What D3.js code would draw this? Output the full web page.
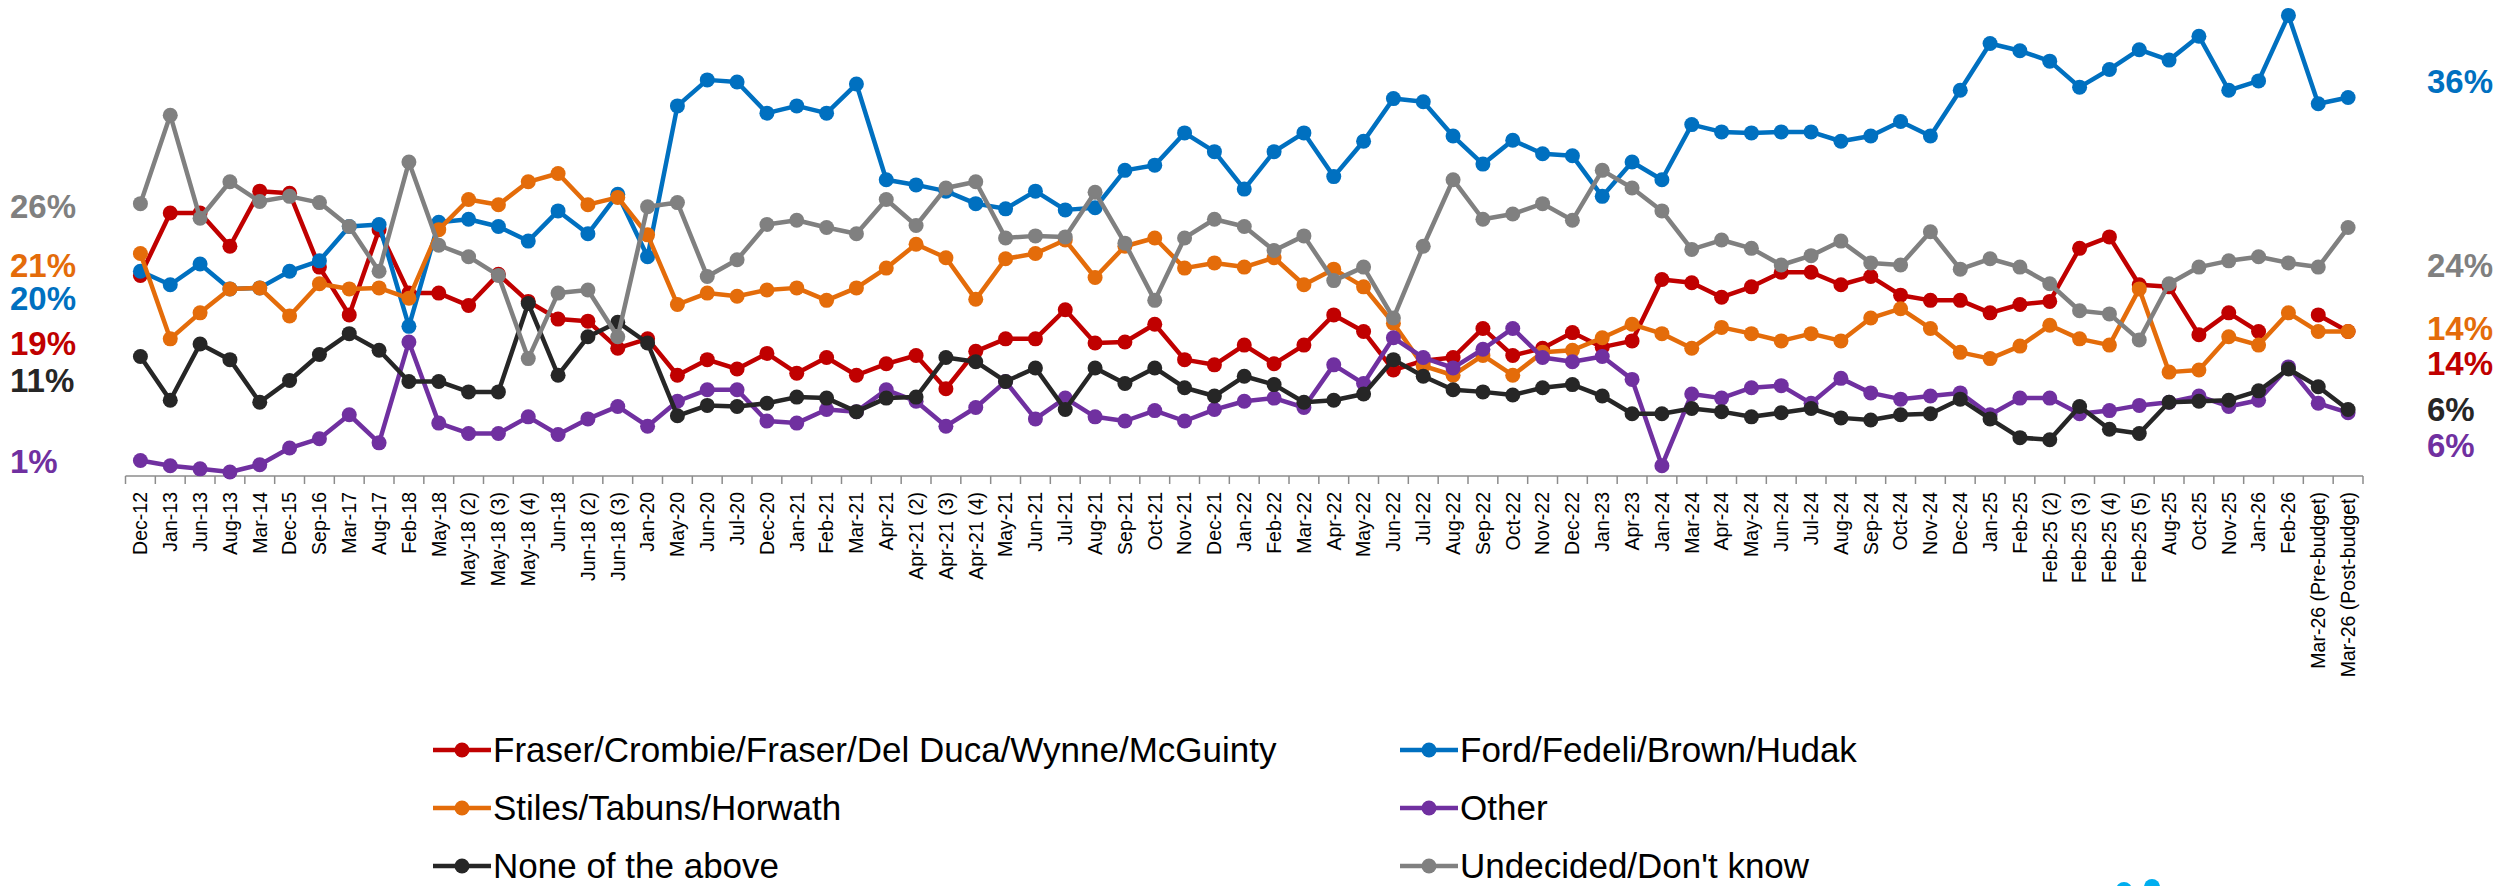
<!DOCTYPE html>
<meta charset="utf-8">
<script src="https://d3js.org/d3.v7.min.js"></script>
<style>
  body { margin: 0; background: #fff; }
</style>
<div id="chart"></div>
<script>

// categories (survey waves)
var waves = ["Dec-12","Jan-13","Jun-13","Aug-13","Mar-14","Dec-15","Sep-16","Mar-17","Aug-17","Feb-18",
  "May-18","May-18 (2)","May-18 (3)","May-18 (4)","Jun-18","Jun-18 (2)","Jun-18 (3)","Jan-20","May-20",
  "Jun-20","Jul-20","Dec-20","Jan-21","Feb-21","Mar-21","Apr-21","Apr-21 (2)","Apr-21 (3)","Apr-21 (4)",
  "May-21","Jun-21","Jul-21","Aug-21","Sep-21","Oct-21","Nov-21","Dec-21","Jan-22",
  "Feb-22","Mar-22","Apr-22","May-22","Jun-22","Jul-22","Aug-22","Sep-22","Oct-22","Nov-22","Dec-22",
  "Jan-23","Apr-23","Jan-24","Mar-24","Apr-24","May-24","Jun-24","Jul-24",
  "Aug-24","Sep-24","Oct-24","Nov-24","Dec-24","Jan-25","Feb-25","Feb-25 (2)","Feb-25 (3)","Feb-25 (4)",
  "Feb-25 (5)","Aug-25","Oct-25","Nov-25","Jan-26","Feb-26","Mar-26 (Pre-budget)","Mar-26 (Post-budget)"];

// series values (%)
var liberal = [19.0,25.0,25.0,21.8,27.1,26.9,19.8,15.2,23.4,17.3,17.3,16.1,19.1,16.5,14.8,14.6,12.0,12.9,9.4,
  10.9,10.0,11.5,9.6,11.1,9.4,10.5,11.3,8.1,11.7,12.9,12.9,15.7,12.5,12.6,14.3,10.9,10.4,12.3,10.5,
  12.3,15.2,13.6,9.9,10.8,11.1,13.9,11.3,12.0,13.5,12.1,12.7,18.6,18.3,16.9,17.9,19.3,19.3,18.1,
  18.9,17.1,16.6,16.6,15.4,16.2,16.5,21.6,22.7,18.1,17.9,13.3,15.4,13.6,null,15.2,13.6];

var pc = [19.4,18.1,20.1,17.7,17.8,19.4,20.4,23.7,23.9,14.1,24.1,24.4,23.7,22.3,25.2,23.0,26.8,20.8,35.3,
  37.8,37.6,34.6,35.3,34.6,37.4,28.2,27.7,27.1,25.9,25.4,27.1,25.3,25.5,29.1,29.6,32.7,30.9,27.3,30.9,
  32.7,28.5,31.9,36.0,35.7,32.4,29.7,32.0,30.7,30.5,26.6,29.9,28.2,33.5,32.8,32.7,32.8,32.8,31.9,
  32.4,33.8,32.4,36.8,41.3,40.6,39.6,37.1,38.8,40.7,39.7,42.0,36.8,37.7,44.0,35.5,36.1];

var ndp = [21.1,12.9,15.4,17.7,17.8,15.1,18.2,17.7,17.8,16.8,23.4,26.3,25.8,28.0,28.8,25.8,26.5,22.9,16.2,
  17.3,17.0,17.6,17.8,16.6,17.8,19.7,22.0,20.7,16.7,20.6,21.1,22.4,18.8,21.8,22.6,19.7,20.2,19.8,20.7,
  18.1,19.6,17.9,14.4,10.3,9.4,11.3,9.4,11.6,11.8,13.0,14.3,13.4,12.0,14.0,13.4,12.7,13.4,12.7,
  14.9,15.8,13.9,11.6,11.0,12.2,14.2,12.9,12.3,17.7,9.7,9.9,13.1,12.3,15.4,13.6,13.6];

var other = [1.2,0.7,0.4,0.1,0.8,2.4,3.3,5.6,2.9,12.6,4.8,3.8,3.8,5.4,3.7,5.2,6.4,4.5,6.9,
  8.0,8.0,5.0,4.8,6.1,5.9,8.0,6.9,4.5,6.3,8.8,5.2,7.2,5.4,5.0,6.0,5.0,6.1,6.9,7.2,
  6.3,10.4,8.6,13.0,11.1,10.1,11.9,13.9,11.1,10.7,11.2,9.0,0.7,7.6,7.2,8.2,8.4,6.7,9.1,
  7.7,7.1,7.4,7.7,5.6,7.2,7.2,5.7,6.0,6.5,6.8,7.4,6.4,7.0,10.2,6.7,5.8];

var noneAbove = [11.2,7.0,12.4,10.9,6.8,8.9,11.4,13.4,11.8,8.8,8.8,7.8,7.8,16.3,9.4,13.1,14.5,12.5,5.5,
  6.5,6.4,6.7,7.3,7.2,5.9,7.2,7.3,11.1,10.7,8.8,10.1,6.1,10.1,8.6,10.1,8.2,7.4,9.3,8.5,
  6.8,7.0,7.6,10.9,9.3,8.0,7.8,7.5,8.2,8.5,7.4,5.7,5.7,6.2,5.9,5.4,5.8,6.2,5.3,
  5.1,5.6,5.7,7.1,5.2,3.4,3.2,6.4,4.2,3.8,6.8,6.9,7.0,7.9,10.0,8.3,6.1];

var undecided = [25.9,34.4,24.5,28.0,26.1,26.6,26.0,23.7,19.4,29.9,21.9,20.8,19.0,11.0,17.3,17.6,13.1,25.6,26.0,
  18.9,20.5,23.9,24.3,23.6,23.0,26.3,23.8,27.4,28.0,22.6,22.8,22.7,27.0,22.1,16.6,22.6,24.4,23.7,21.4,
  22.8,18.5,19.8,14.9,21.8,28.2,24.4,24.9,25.9,24.3,29.1,27.4,25.2,21.5,22.4,21.6,20.0,20.9,22.3,
  20.2,20.0,23.2,19.6,20.6,19.8,18.2,15.6,15.3,12.8,18.2,19.8,20.4,20.8,20.2,19.8,23.6];

// end labels
var firstLabels = ["26%","21%","20%","19%","11%","1%"];
var lastLabels = ["36%","24%","14%","14%","6%","6%"];

var names = ["Fraser/Crombie/Fraser/Del Duca/Wynne/McGuinty","Ford/Fedeli/Brown/Hudak",
  "Stiles/Tabuns/Horwath","Other","None of the above","Undecided/Don't know"];

var series = [
  {name: names[0], values: liberal,   color: "#C00000"},
  {name: names[1], values: pc,        color: "#0070C0"},
  {name: names[2], values: ndp,       color: "#E46C0A"},
  {name: names[3], values: other,     color: "#7030A0"},
  {name: names[4], values: noneAbove, color: "#262626"},
  {name: names[5], values: undecided, color: "#808080"}
];

var width = 2499, height = 886;

var svg = d3.select("#chart").append("svg")
    .attr("width", width)
    .attr("height", height)
    .style("display", "block");

var x = d3.scaleBand()
  .domain(waves)
  .range([125.5, 2363]);

var y = d3.scaleLinear()
  .domain([0, 45])
  .range([473, 5]);

var cx = function(m) { return x(m) + x.bandwidth() / 2; };

// X AXIS
var axisY = 476;
svg.append("line")
    .attr("x1", x.range()[0])
    .attr("x2", x.range()[1])
    .attr("y1", axisY)
    .attr("y2", axisY)
    .attr("stroke", "#8c8c8c")
    .attr("stroke-width", 1.5);

var bounds = waves.map(function(m) { return x(m); }).concat([x.range()[1]]);
svg.selectAll(".tickmark")
  .data(bounds)
  .enter().append("line")
    .attr("class", "tickmark")
    .attr("x1", function(d) { return d; })
    .attr("x2", function(d) { return d; })
    .attr("y1", axisY)
    .attr("y2", axisY + 8)
    .attr("stroke", "#8c8c8c")
    .attr("stroke-width", 1.5);

svg.selectAll(".ticklabel")
  .data(waves)
  .enter().append("text")
    .attr("class", "ticklabel")
    .attr("transform", function(d) { return "translate(" + cx(d) + ",492) rotate(-90)"; })
    .attr("dy", "0.35em")
    .style("text-anchor", "end")
    .style("font", "19.5px 'Liberation Sans', Arial, sans-serif")
    .attr("fill", "#000")
    .text(function(d) { return d; });

// LINES
var line = d3.line()
  .defined(function(d) { return d.v != null; })
  .x(function(d) { return cx(d.m); })
  .y(function(d) { return y(d.v); });

series.forEach(function(s) {
  var pts = s.values.map(function(v, i) { return {m: waves[i], v: v}; });
  var g = svg.append("g");
  g.append("path")
      .datum(pts)
      .attr("fill", "none")
      .attr("stroke", s.color)
      .attr("stroke-width", 4.5)
      .attr("stroke-linejoin", "round")
      .attr("d", line);
  g.selectAll("circle")
    .data(pts.filter(function(d) { return d.v != null; }))
    .enter().append("circle")
      .attr("cx", function(d) { return cx(d.m); })
      .attr("cy", function(d) { return y(d.v); })
      .attr("r", 7.5)
      .attr("fill", s.color);
});

// START / END LABELS
var firstY = [218, 277, 310, 355, 392, 473];
var firstColors = ["#808080", "#E46C0A", "#0070C0", "#C00000", "#262626", "#7030A0"];
svg.selectAll(".firstlab")
  .data(firstLabels)
  .enter().append("text")
    .attr("x", 10)
    .attr("y", function(d, i) { return firstY[i]; })
    .attr("fill", function(d, i) { return firstColors[i]; })
    .style("font", "bold 33px 'Liberation Sans', Arial, sans-serif")
    .text(function(d) { return d; });

var lastY = [93, 277, 340, 375, 421, 457];
var lastColors = ["#0070C0", "#808080", "#E46C0A", "#C00000", "#262626", "#7030A0"];
svg.selectAll(".lastlab")
  .data(lastLabels)
  .enter().append("text")
    .attr("x", 2427)
    .attr("y", function(d, i) { return lastY[i]; })
    .attr("fill", function(d, i) { return lastColors[i]; })
    .style("font", "bold 33px 'Liberation Sans', Arial, sans-serif")
    .text(function(d) { return d; });

// LEGEND
var legX = [433, 1400];
var legY = [762, 820, 878];
var leg = svg.selectAll(".leg")
  .data(series)
  .enter().append("g")
    .attr("class", "leg")
    .attr("transform", function(d, i) {
      return "translate(" + legX[i % 2] + "," + legY[Math.floor(i / 2)] + ")";
    });
leg.append("line")
    .attr("x1", 0).attr("x2", 58)
    .attr("y1", -12).attr("y2", -12)
    .attr("stroke", function(d) { return d.color; })
    .attr("stroke-width", 4.5);
leg.append("circle")
    .attr("cx", 29).attr("cy", -12).attr("r", 7.5)
    .attr("fill", function(d) { return d.color; });
leg.append("text")
    .attr("x", 60)
    .attr("y", 0)
    .style("font", "35px 'Liberation Sans', Arial, sans-serif")
    .attr("fill", "#000")
    .text(function(d) { return d.name; });

// logo fragment at the bottom edge
svg.append("circle").attr("cx", 2124).attr("cy", 890).attr("r", 8).attr("fill", "#00AEEF");
svg.append("circle").attr("cx", 2152).attr("cy", 887).attr("r", 8).attr("fill", "#00AEEF");

</script>
